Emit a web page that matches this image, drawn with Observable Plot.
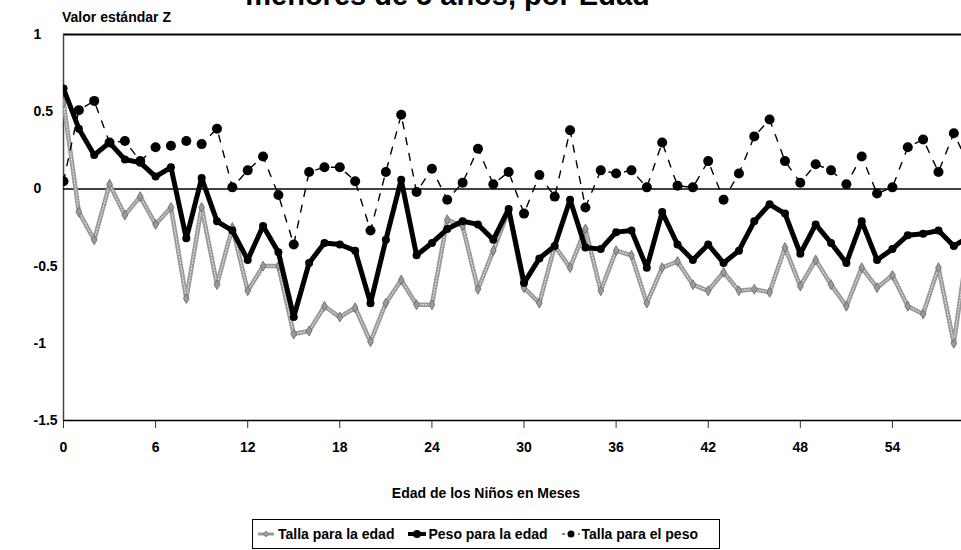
<!DOCTYPE html>
<html>
<head>
<meta charset="utf-8">
<script src="https://cdn.jsdelivr.net/npm/d3@7"></script>
<script src="https://cdn.jsdelivr.net/npm/@observablehq/plot@0.6"></script>
<style>
  html, body { margin: 0; padding: 0; background: #fff; }
  #wrap { position: relative; width: 961px; height: 550px; overflow: hidden; font-family: "Liberation Sans", Arial, sans-serif; font-weight: bold; color: #000; }
  #title { position: absolute; left: 0; width: 895px; text-align: center; top: -19px; font-size: 29px; line-height: 29px; white-space: nowrap; }
  #ylab { position: absolute; left: 62px; top: 9px; font-size: 14px; }
  #xlab { position: absolute; left: 0; width: 972px; text-align: center; top: 485px; font-size: 14px; }
  #chart { position: absolute; left: 0; top: 0; }
  #legend { position: absolute; left: 252px; top: 519px; width: 466px; height: 28px; border: 1px solid #000; display: flex; align-items: center; font-size: 14px; white-space: nowrap; }
  #legend .item { display: flex; align-items: center; margin-right: 8px; }
  #legend svg { display: block; }
</style>
</head>
<body>
<div id="wrap">
  <div id="title">menores de 5 años, por Edad</div>
  <div id="chart"></div>
  <div id="ylab">Valor estándar Z</div>
  <div id="xlab">Edad de los Niños en Meses</div>
  <div id="legend"></div>
</div>
<script>
const months = d3.range(0, 60);
const xTicks = [0, 6, 12, 18, 24, 30, 36, 42, 48, 54];
const yTicks = [1, 0.5, 0, -0.5, -1, -1.5];
const seriesNames = ["Talla para la edad", "Peso para la edad", "Talla para el peso"];

const tallaEdad = [0.56, -0.15, -0.33, 0.03, -0.17, -0.05, -0.23, -0.12, -0.71, -0.12,
  -0.62, -0.25, -0.66, -0.50, -0.50, -0.94, -0.92, -0.76, -0.83, -0.77,
  -0.99, -0.74, -0.59, -0.75, -0.75, -0.20, -0.24, -0.65, -0.40, -0.14,
  -0.64, -0.74, -0.37, -0.51, -0.26, -0.66, -0.40, -0.43, -0.74, -0.51,
  -0.47, -0.62, -0.66, -0.54, -0.66, -0.65, -0.67, -0.38, -0.63, -0.46,
  -0.62, -0.76, -0.51, -0.64, -0.56, -0.76, -0.81, -0.51, -1.00, -0.30];

const pesoEdad = [0.65, 0.39, 0.22, 0.30, 0.19, 0.17, 0.08, 0.14, -0.32, 0.07,
  -0.21, -0.27, -0.46, -0.24, -0.41, -0.83, -0.48, -0.35, -0.36, -0.40,
  -0.74, -0.33, 0.06, -0.43, -0.35, -0.26, -0.21, -0.23, -0.33, -0.13,
  -0.61, -0.45, -0.37, -0.07, -0.38, -0.39, -0.28, -0.27, -0.51, -0.15,
  -0.36, -0.46, -0.36, -0.48, -0.40, -0.21, -0.10, -0.16, -0.42, -0.23,
  -0.35, -0.48, -0.21, -0.46, -0.39, -0.30, -0.29, -0.27, -0.37, -0.31];

const tallaPeso = [0.05, 0.51, 0.57, 0.30, 0.31, 0.18, 0.27, 0.28, 0.31, 0.29,
  0.39, 0.01, 0.12, 0.21, -0.04, -0.36, 0.11, 0.14, 0.14, 0.05,
  -0.27, 0.11, 0.48, -0.02, 0.13, -0.07, 0.04, 0.26, 0.03, 0.11,
  -0.16, 0.09, -0.05, 0.38, -0.12, 0.12, 0.10, 0.12, 0.01, 0.30,
  0.02, 0.01, 0.18, -0.07, 0.10, 0.34, 0.45, 0.18, 0.04, 0.16,
  0.12, 0.03, 0.21, -0.03, 0.01, 0.27, 0.32, 0.11, 0.36, 0.15];

const dTE = months.map((m, i) => ({m, v: tallaEdad[i]}));
const dPE = months.map((m, i) => ({m, v: pesoEdad[i]}));
const dTP = months.map((m, i) => ({m, v: tallaPeso[i]}));

const GRAY = "#9a9a9a";

const plot = Plot.plot({
  width: 961,
  height: 460,
  marginLeft: 63,
  marginRight: 0,
  marginTop: 34,
  marginBottom: 40,
  style: {fontFamily: "Liberation Sans, Arial, sans-serif", fontSize: "14px", fontWeight: "bold", color: "#000", background: "transparent"},
  x: {domain: [0, 58.5]},
  y: {domain: [-1.5, 1]},
  marks: [
    Plot.axisX({ticks: xTicks, tickSize: 8, tickPadding: 14, tickFormat: d => String(d), label: null, fontSize: 14, fontWeight: "bold", stroke: "#333"}),
    Plot.axisY({ticks: yTicks, tickSize: 0, tickPadding: 30, textAnchor: "start", tickFormat: d => String(d), label: null, fontSize: 14, fontWeight: "bold"}),
    Plot.ruleY([1], {stroke: "#000", strokeWidth: 2}),
    Plot.ruleY([-1.5], {stroke: "#000", strokeWidth: 1.5}),
    Plot.ruleX([0], {stroke: "#444", strokeWidth: 1.5}),
    Plot.ruleY([0], {stroke: "#000", strokeWidth: 1.5}),
    // Talla para la edad
    Plot.line(dTE, {x: "m", y: "v", stroke: GRAY, strokeWidth: 4.5, clip: true}),
    Plot.line(dTE, {x: "m", y: "v", stroke: "#fff", strokeWidth: 1, strokeDasharray: "1.2,1.8", strokeOpacity: 0.8, clip: true}),
    Plot.dot(dTE, {x: "m", y: "v", symbol: "diamond", r: 3, fill: GRAY, stroke: "#666", strokeWidth: 0.8, clip: true}),
    // Talla para el peso
    Plot.line(dTP, {x: "m", y: "v", stroke: "#000", strokeWidth: 1.4, strokeDasharray: "7,9", clip: true}),
    // Peso para la edad
    Plot.line(dPE, {x: "m", y: "v", stroke: "#000", strokeWidth: 5, clip: true}),
    Plot.dot(dPE, {x: "m", y: "v", r: 4, fill: "#000", clip: true}),
    Plot.dot(dTP, {x: "m", y: "v", r: 5, fill: "#000", clip: true})
  ]
});
document.getElementById("chart").appendChild(plot);

// legend
const legend = d3.select("#legend");
const samples = [
  {name: seriesNames[0], draw: s => {
    s.append("line").attr("x1", 2).attr("x2", 18).attr("y1", 8).attr("y2", 8).attr("stroke", GRAY).attr("stroke-width", 3);
    s.append("path").attr("d", "M10,5 L13,8 L10,11 L7,8Z").attr("fill", GRAY).attr("stroke", "#666").attr("stroke-width", 0.6);
  }},
  {name: seriesNames[1], draw: s => {
    s.append("line").attr("x1", 2).attr("x2", 20).attr("y1", 8).attr("y2", 8).attr("stroke", "#000").attr("stroke-width", 4);
    s.append("circle").attr("cx", 11).attr("cy", 8).attr("r", 4).attr("fill", "#000");
  }},
  {name: seriesNames[2], draw: s => {
    s.append("line").attr("x1", 2).attr("x2", 20).attr("y1", 8).attr("y2", 8).attr("stroke", "#000").attr("stroke-width", 1.2).attr("stroke-dasharray", "3,5");
    s.append("circle").attr("cx", 11).attr("cy", 8).attr("r", 3.5).attr("fill", "#000");
  }}
];
samples.forEach((d, i) => {
  const it = legend.append("div").attr("class", "item").style("margin-left", i === 0 ? "3px" : "4px");
  const s = it.append("svg").attr("width", 22).attr("height", 16);
  d.draw(s);
  it.append("span").text(d.name);
});
</script>
</body>
</html>
